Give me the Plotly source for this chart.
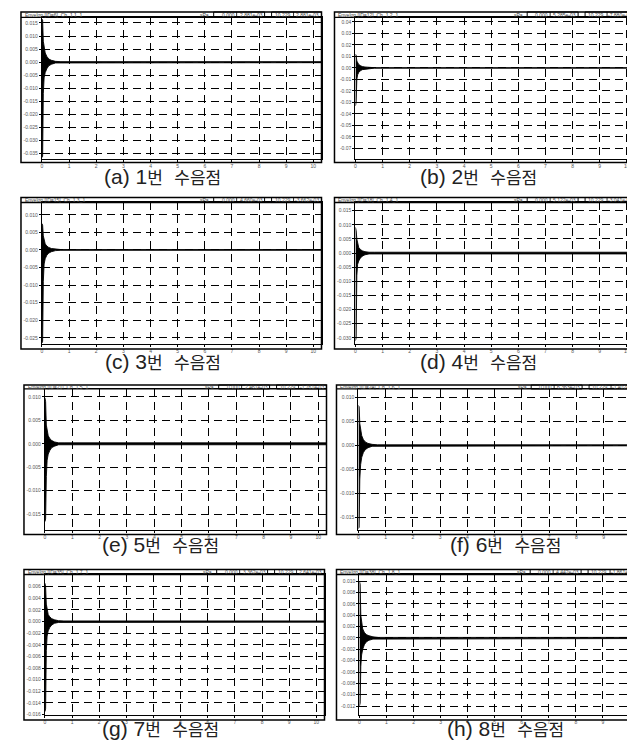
import plotly.graph_objects as go

W, H = 635, 745

# ---------------- data ----------------
t_env = [0, 0.025, 0.05, 0.08, 0.12, 0.18, 0.25, 0.35, 0.5, 0.7, 10.3]

upper_a = [0.0165, 0.0160, 0.0080, 0.0050, 0.0035, 0.0022, 0.0012, 0.0007, 0.0003, 0.0002, 0.0002]
lower_a = [-0.0365, -0.0360, -0.0120, -0.0060, -0.0040, -0.0025, -0.0014, -0.0008, -0.0003, -0.0002, -0.0002]
upper_b = [0.0120, 0.0110, 0.0060, 0.0040, 0.0030, 0.0020, 0.0012, 0.0008, 0.0005, 0.0002, 0.0002]
lower_b = [-0.0330, -0.0300, -0.0100, -0.0060, -0.0040, -0.0025, -0.0015, -0.0009, -0.0005, -0.0002, -0.0002]
upper_c = [0.0075, 0.0070, 0.0040, 0.0025, 0.0017, 0.0011, 0.0007, 0.0004, 0.0002, 0.0001, 0.0001]
lower_c = [-0.0265, -0.0260, -0.0090, -0.0040, -0.0025, -0.0015, -0.0009, -0.0005, -0.0002, -0.0001, -0.0001]
upper_d = [0.0091, 0.0080, 0.0050, 0.0030, 0.0020, 0.0013, 0.0008, 0.0005, 0.0003, 0.0003, 0.0003]
lower_d = [-0.0310, -0.0300, -0.0080, -0.0040, -0.0028, -0.0018, -0.0011, -0.0006, -0.0003, -0.0003, -0.0003]
upper_e = [0.0098, 0.0090, 0.0040, 0.0025, 0.0017, 0.0011, 0.0007, 0.0004, 0.0002, 0.0002, 0.0002]
lower_e = [-0.0166, -0.0160, -0.0070, -0.0035, -0.0022, -0.0014, -0.0008, -0.0005, -0.0002, -0.0002, -0.0002]
upper_f = [0.0083, 0.0080, 0.0045, 0.0030, 0.0020, 0.0012, 0.0007, 0.0004, 0.0002, 0.0001, 0.0001]
lower_f = [-0.0173, -0.0170, -0.0070, -0.0040, -0.0025, -0.0015, -0.0009, -0.0005, -0.0002, -0.0001, -0.0001]
upper_g = [0.0066, 0.0060, 0.0030, 0.0018, 0.0012, 0.0008, 0.0005, 0.0003, 0.00015, 0.0001, 0.0001]
lower_g = [-0.0155, -0.0150, -0.0050, -0.0025, -0.0016, -0.0010, -0.0006, -0.0003, -0.00015, -0.0001, -0.0001]
upper_h = [0.0100, 0.0095, 0.0040, 0.0025, 0.0016, 0.0010, 0.0006, 0.0004, 0.0002, 0.0001, 0.0001]
lower_h = [-0.0120, -0.0115, -0.0050, -0.0030, -0.0020, -0.0012, -0.0007, -0.0004, -0.0002, -0.0001, -0.0001]

x_ticks = [0, 1, 2, 3, 4, 5, 6, 7, 8, 9, 10]
yticks_a = [0.015, 0.010, 0.005, 0.000, -0.005, -0.010, -0.015, -0.020, -0.025, -0.030, -0.035]
yticks_b = [0.04, 0.03, 0.02, 0.01, 0.00, -0.01, -0.02, -0.03, -0.04, -0.05, -0.06, -0.07]
yticks_c = [0.010, 0.005, 0.000, -0.005, -0.010, -0.015, -0.020, -0.025]
yticks_d = [0.015, 0.010, 0.005, 0.000, -0.005, -0.010, -0.015, -0.020, -0.025, -0.030]
yticks_e = [0.010, 0.005, 0.000, -0.005, -0.010, -0.015]
yticks_f = [0.010, 0.005, 0.000, -0.005, -0.010, -0.015]
yticks_g = [0.006, 0.004, 0.002, 0.000, -0.002, -0.004, -0.006, -0.008, -0.010, -0.012, -0.014, -0.016]
yticks_h = [0.010, 0.008, 0.006, 0.004, 0.002, 0.000, -0.002, -0.004, -0.006, -0.008, -0.010, -0.012]

titles = ["Envelop [ID=6]  Ch. 1 1_1", "Envelop [ID=12]  Ch. 1 2_1", "Envelop [ID=15]  Ch. 1 3_1",
          "Envelop [ID=18]  Ch. 1 4_1", "Envelop [ID=21]  Ch. 1 5_1", "Envelop [ID=24]  Ch. 1 6_1",
          "Envelop [ID=35]  Ch. 1 7_1", "Envelop [ID=38]  Ch. 1 8_1"]
cursor_vals = [("0.000", "2.881e-03", "10.229", "2.881e-03"),
               ("0.000", "5.285e-03", "10.229", "-7.880e-03"),
               ("0.000", "4.660e-03", "10.229", "-3.662e-03"),
               ("0.000", "5.122e-03", "10.229", "-3.041e-03"),
               ("0.000", "2.461e-03", "10.229", "-1.761e-03"),
               ("0.000", "6.363e-03", "10.229", "-1.402e-03"),
               ("0.000", "3.362e-03", "10.229", "2.641e-03"),
               ("0.000", "4.442e-03", "10.229", "-1.861e-03")]
caption_labels = ["(a) 1", "(b) 2", "(c) 3", "(d) 4", "(e) 5", "(f) 6", "(g) 7", "(h) 8"]
caption_words = ["번   수음점"] * 8

# ---------------- layout (pixels) ----------------
panels = [
    dict(box=(12, 4, 313, 155), head=9.5, pl=33, pb=151, yr=(-0.0369, 0.0171), fmt="{:.3f}", up=upper_a, lo=lower_a, yt=yticks_a, cap=(154, 169)),
    dict(box=(326, 4, 627, 155), head=9.5, pl=347, pb=151, yr=(-0.0789, 0.0439), fmt="{:.2f}", up=upper_b, lo=lower_b, yt=yticks_b, cap=(470, 169)),
    dict(box=(12, 190, 313, 342), head=195, pl=33, pb=337, yr=(-0.0268, 0.0135), fmt="{:.3f}", up=upper_c, lo=lower_c, yt=yticks_c, cap=(154, 354)),
    dict(box=(326, 190, 627, 342), head=195, pl=347, pb=337, yr=(-0.0322, 0.0179), fmt="{:.3f}", up=upper_d, lo=lower_d, yt=yticks_d, cap=(470, 354)),
    dict(box=(15, 378, 318, 528), head=382, pl=36, pb=523, yr=(-0.0183, 0.0117), fmt="{:.3f}", up=upper_e, lo=lower_e, yt=yticks_e, cap=(152, 538)),
    dict(box=(328, 378, 631, 528), head=382, pl=350, pb=523, yr=(-0.0175, 0.0117), fmt="{:.3f}", up=upper_f, lo=lower_f, yt=yticks_f, cap=(497, 538)),
    dict(box=(15, 563, 316, 714), head=568, pl=36, pb=709, yr=(-0.0161, 0.0081), fmt="{:.3f}", up=upper_g, lo=lower_g, yt=yticks_g, cap=(152, 722)),
    dict(box=(328, 563, 630, 714), head=568, pl=351, pb=709, yr=(-0.0136, 0.0112), fmt="{:.3f}", up=upper_h, lo=lower_h, yt=yticks_h, cap=(497, 722)),
]


def px(x):
    return x / W


def py(y):
    return 1 - y / H


fig = go.Figure()
shapes = []
annotations = []
layout_axes = {}
tick_font = dict(family="Liberation Sans, Arial, sans-serif", size=5, color="#555")
head_font = dict(family="Liberation Sans, Arial, sans-serif", size=5, color="#444")

for i, p in enumerate(panels):
    n = i + 1
    xs = "" if n == 1 else str(n)
    L, T, R, B = p["box"]
    fig.add_trace(go.Scatter(
        x=t_env + t_env[::-1], y=p["up"] + p["lo"][::-1],
        mode="lines", fill="toself", fillcolor="black",
        line=dict(color="black", width=0.9),
        hoverinfo="skip", showlegend=False,
        xaxis="x" + xs, yaxis="y" + xs))

    common = dict(showline=True, mirror=True, linecolor="black", linewidth=1.3,
                  showgrid=True, gridcolor="black", gridwidth=1, griddash="8px,5px",
                  zeroline=False, ticks="outside", ticklen=2, tickcolor="black",
                  tickfont=tick_font, fixedrange=True)
    layout_axes["xaxis" + xs] = dict(common, domain=[px(p["pl"]), px(R)], range=[0, 10.3],
                                     anchor="y" + xs, tickvals=x_ticks,
                                     ticktext=[str(v) for v in x_ticks])
    layout_axes["yaxis" + xs] = dict(common, domain=[py(p["pb"]), py(p["head"])], range=list(p["yr"]),
                                     anchor="x" + xs, tickvals=p["yt"],
                                     ticktext=[p["fmt"].format(v) for v in p["yt"]])

    # outer frame and header separator
    shapes.append(dict(type="rect", xref="paper", yref="paper", x0=px(L), x1=px(R), y0=py(B), y1=py(T),
                       line=dict(color="black", width=1.5)))
    shapes.append(dict(type="line", xref="paper", yref="paper", x0=px(L), x1=px(R), y0=py(p["head"]), y1=py(p["head"]),
                       line=dict(color="black", width=1.3)))
    # cursor value boxes in header
    for (a0, a1) in ((R - 108, R - 57), (R - 50, R)):
        shapes.append(dict(type="rect", xref="paper", yref="paper", x0=px(a0), x1=px(a1), y0=py(p["head"]), y1=py(T),
                           line=dict(color="black", width=1)))
    for xx in (R - 85, R - 28):
        shapes.append(dict(type="line", xref="paper", yref="paper", x0=px(xx), x1=px(xx), y0=py(p["head"]), y1=py(T),
                           line=dict(color="black", width=0.8)))
    ym = py((T + p["head"]) / 2)
    annotations.append(dict(x=px(L + 3), y=ym, xref="paper", yref="paper", text=titles[i], showarrow=False,
                            xanchor="left", yanchor="middle", font=head_font, borderpad=0))
    annotations.append(dict(x=px(R - 117), y=ym, xref="paper", yref="paper", text="sPa", showarrow=False,
                            xanchor="center", yanchor="middle", font=head_font, borderpad=0))
    v = cursor_vals[i]
    for txt, xr in ((v[0], R - 86), (v[1], R - 58), (v[2], R - 30), (v[3], R - 2)):
        annotations.append(dict(x=px(xr), y=ym, xref="paper", yref="paper", text=txt, showarrow=False,
                                xanchor="right", yanchor="middle", font=head_font, borderpad=0))
    cx, cy = p["cap"]
    cap_text = ("<span style=\"font-family:'Liberation Sans';font-size:21px\">" + caption_labels[i]
                + "</span>" + caption_words[i])
    annotations.append(dict(x=px(cx), y=py(cy), xref="paper", yref="paper", text=cap_text, showarrow=False,
                            xanchor="center", yanchor="middle", borderpad=0,
                            font=dict(family="Noto Sans CJK KR, sans-serif", size=17, color="#222")))

fig.update_layout(
    width=W, height=H, autosize=False,
    margin=dict(l=0, r=0, t=0, b=0),
    paper_bgcolor="white", plot_bgcolor="white",
    showlegend=False, shapes=shapes, annotations=annotations,
    **layout_axes)

fig.write_html("out.html", config={"displayModeBar": False})
